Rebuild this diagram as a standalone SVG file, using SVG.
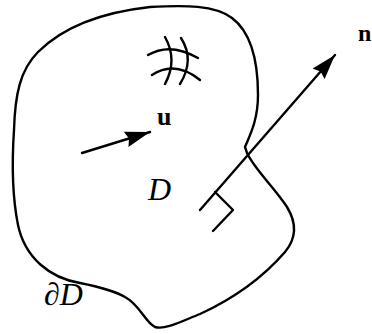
<svg xmlns="http://www.w3.org/2000/svg" width="372" height="334" viewBox="0 0 372 334">
<style>
.ln{fill:none;stroke:#000;stroke-width:2.4;stroke-linecap:round;stroke-linejoin:round}
.lbl{font-family:"Liberation Serif","Times New Roman",serif;fill:#000}
</style>
<defs>
<marker id="ah" markerUnits="userSpaceOnUse" markerWidth="28" markerHeight="18" refX="25" refY="8" orient="auto">
<path d="M0,0 L25,8 L0,16 L3,8 z" fill="#000"/>
</marker>
</defs>
<rect width="372" height="334" fill="#fff"/>
<g id="region">
<path class="ln" d="M150,7 C185,5 215,5 232,18 C252,33 258,65 258,95 C258,120 250,135 245,147 L247,153 C255,170 275,188 287,207 C298,225 295,240 285,252 C265,275 235,298 200,314 C180,322 165,330 155,327 C145,322 140,305 125,297 C113,290 95,286 80,283 C50,278 25,258 18,225 C12,195 12,160 14,130 C15,95 20,70 38,52 C65,25 105,12 150,7 Z"/>
</g>
<g id="mesh">
<path class="ln" d="M148,55 Q170,42 198,58"/>
<path class="ln" d="M152,75 Q175,60 200,80"/>
<path class="ln" d="M165,37 Q178,60 165,84"/>
<path class="ln" d="M181,38 Q195,60 180,84"/>
</g>
<g id="connectors">
<line class="ln" x1="200" y1="210" x2="335" y2="55" stroke-linecap="butt" marker-end="url(#ah)"/>
<line class="ln" x1="82" y1="153" x2="150" y2="132" stroke-linecap="butt" marker-end="url(#ah)"/>
<polyline class="ln" points="215,192 233,210 213,231"/>
</g>
<g id="labels">
<text class="lbl" x="358" y="41" font-size="24" font-weight="bold">n</text>
<text class="lbl" x="157" y="125" font-size="26" font-weight="bold">u</text>
<text class="lbl" x="148" y="200" font-size="32" font-style="italic">D</text>
<text class="lbl" x="44" y="305" font-size="32" font-style="italic">∂D</text>
</g>
</svg>
